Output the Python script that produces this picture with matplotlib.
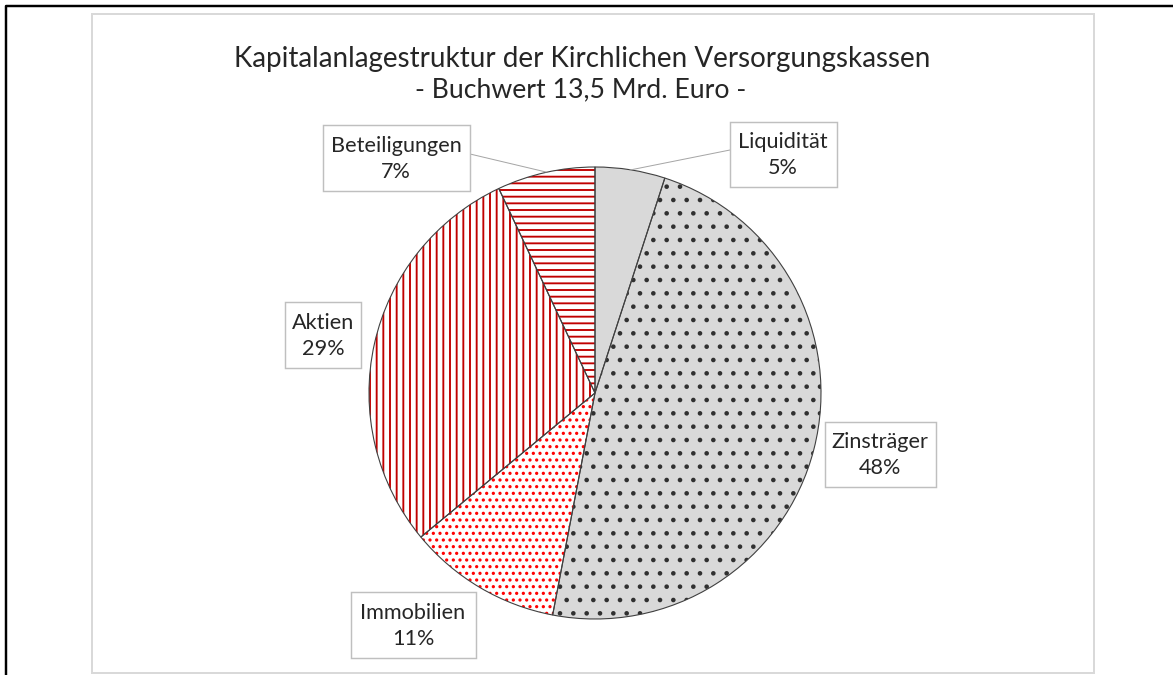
import numpy as np
import matplotlib
matplotlib.use("Agg")
import matplotlib.pyplot as plt

# Daten
categories = ["Liquidität", "Zinsträger", "Immobilien", "Aktien", "Beteiligungen"]
shares = [5, 48, 11, 29, 7]
fills = ["#d9d9d9", "#d9d9d9", "white", "white", "white"]
hatches = [None, ".", "..", "||", "--"]
hatch_colors = ["#d9d9d9", "#303030", "#ff0000", "#c00000", "#c00000"]

title = "Kapitalanlagestruktur der Kirchlichen Versorgungskassen"
subtitle = "- Buchwert 13,5 Mrd. Euro -"

# Layout (Pixel)
W, H = 1173, 675
DPI = 80
center = (595, 393)
radius = 226
label_pos = [(783, 154), (880, 454), (413, 625), (323, 335), (396, 158)]
box_size = [(107, 65), (111, 65), (125, 66), (76, 66), (147, 66)]
leader = {0: ((730, 150), (630, 170)), 4: ((470, 154), (546, 172))}

plt.rcParams["font.family"] = ["Lato", "DejaVu Sans"]
plt.rcParams["hatch.linewidth"] = 1.7

fig = plt.figure(figsize=(W / DPI, H / DPI), dpi=DPI)
ax = fig.add_axes([0, 0, 1, 1])

# Füllung
w_fill, _ = ax.pie(shares, colors=fills, startangle=-90, counterclock=True,
                   center=center, radius=radius, frame=True,
                   wedgeprops=dict(linewidth=0, edgecolor="none"))
# Schraffur
w_hatch, _ = ax.pie(shares, colors=["none"] * 5, startangle=-90, counterclock=True,
                    center=center, radius=radius, frame=True)
for w, h, c in zip(w_hatch, hatches, hatch_colors):
    w.set_facecolor("none")
    w.set_edgecolor(c)
    w.set_linewidth(0)
    if h:
        w.set_hatch(h)
# Umriss
ax.pie(shares, colors=["none"] * 5, startangle=-90, counterclock=True,
       center=center, radius=radius, frame=True,
       wedgeprops=dict(linewidth=1.0, edgecolor="#404040", facecolor="none"))

# Beschriftungen
for i, (p0, p1) in leader.items():
    ax.plot([p0[0], p1[0]], [p0[1], p1[1]], color="#a6a6a6", linewidth=0.9)
for i, (cat, val) in enumerate(zip(categories, shares)):
    x, y = label_pos[i]
    bw, bh = box_size[i]
    ax.add_patch(plt.Rectangle((x - bw / 2, y - bh / 2), bw, bh, facecolor="white",
                               edgecolor="#bfbfbf", linewidth=1.3, zorder=3))
    ax.text(x, y + 1, f"{cat}\n{val}%", ha="center", va="center", fontsize=19.5,
            color="#262626", linespacing=1.4, zorder=4)

ax.text(582, 59, title, ha="center", va="center", fontsize=25, color="#262626")
ax.text(581, 90, subtitle, ha="center", va="center", fontsize=24, color="#262626")

# Rahmen
ax.add_patch(plt.Rectangle((92, 14), 1002, 659, fill=False, edgecolor="#d9d9d9",
                           linewidth=1.8))
ax.plot([6, 6, W], [H, 6, 6], color="black", linewidth=2.2)

ax.set_xlim(0, W)
ax.set_ylim(H, 0)
ax.set_aspect("auto")
ax.axis("off")

fig.savefig("out.png", dpi=DPI, facecolor="white")
